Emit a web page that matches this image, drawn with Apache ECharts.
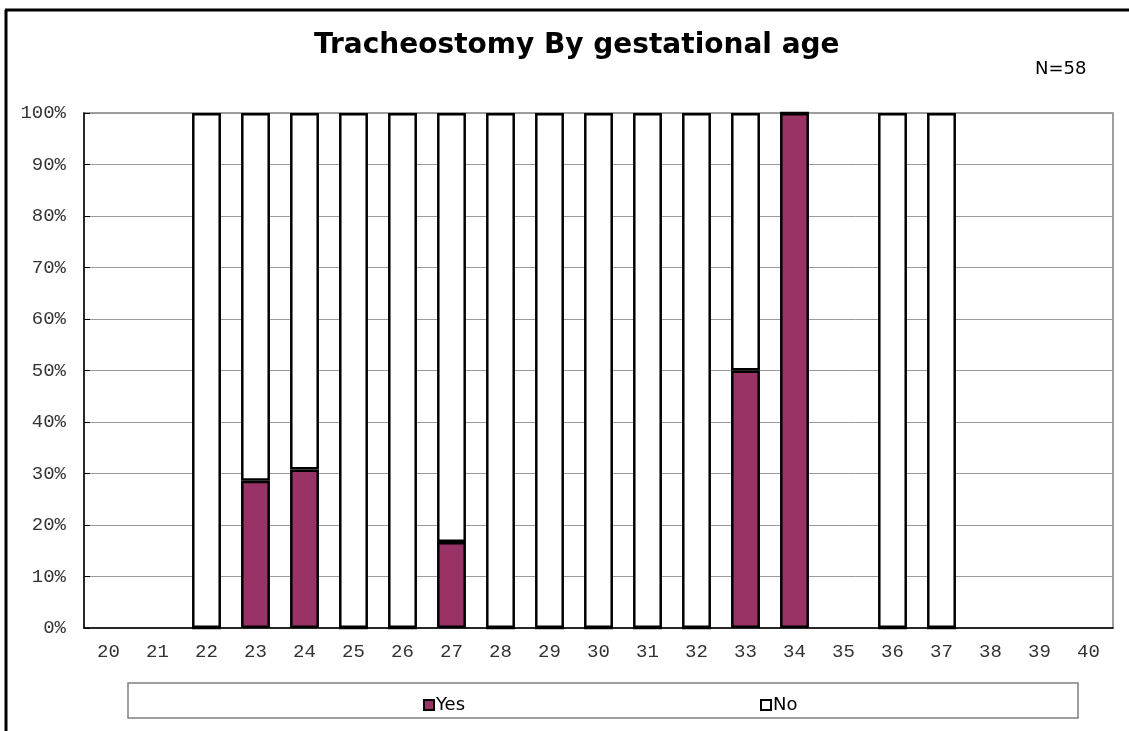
<!DOCTYPE html>
<html>
<head>
<meta charset="utf-8">
<script src="https://cdn.jsdelivr.net/npm/echarts@6/dist/echarts.min.js"></script>
<style>
  html, body { margin: 0; padding: 0; background: #fff; }
  #chart { width: 1129px; height: 731px; }
</style>
</head>
<body>
<div id="chart"></div>
<script>
// gestational age (weeks)
var weeks = ['20','21','22','23','24','25','26','27','28','29','30','31','32','33','34','35','36','37','38','39','40'];
// percent with tracheostomy / without, '-' where no babies
var yesPct = ['-','-',0,28.6,30.8,0,0,16.7,0,0,0,0,0,50,100,'-',0,0,'-','-','-'];
var noPct  = ['-','-',100,71.4,69.2,100,100,83.3,100,100,100,100,100,50,0,'-',100,100,'-','-','-'];
var titleText = 'Tracheostomy By gestational age';
var noteText = 'N=58';

var myChart = echarts.init(document.getElementById('chart'));

var monoFont = '"Liberation Mono", "Courier New", monospace';
var sansFont = '"DejaVu Sans", Tahoma, Verdana, sans-serif';

var option = {
  backgroundColor: '#fff',
  animation: false,
  title: {
    text: titleText,
    left: 309,
    top: 27,
    textStyle: { fontFamily: sansFont, fontWeight: 'bold', fontSize: 28, color: '#000' }
  },
  grid: {
    left: 84,
    right: 16,
    top: 113,
    bottom: 103,
    show: true,
    borderColor: '#808080',
    borderWidth: 1.5
  },
  legend: [
    {
      data: ['Yes'],
      left: 418,
      top: 691,
      icon: 'rect',
      itemWidth: 10,
      itemHeight: 10,
      itemGap: 4,
      textStyle: { fontFamily: sansFont, fontSize: 18, color: '#000', padding: [0, 0, 0, -3] }
    },
    {
      data: ['No'],
      left: 755,
      top: 691,
      icon: 'rect',
      itemWidth: 10,
      itemHeight: 10,
      itemGap: 4,
      textStyle: { fontFamily: sansFont, fontSize: 18, color: '#000', padding: [0, 0, 0, -3] }
    }
  ],
  xAxis: {
    type: 'category',
    data: weeks,
    axisLine: { lineStyle: { color: '#000', width: 1.5 } },
    axisTick: { inside: true, length: 5, lineStyle: { color: '#000' } },
    axisLabel: { fontFamily: monoFont, fontSize: 19, color: '#333', margin: 14 }
  },
  yAxis: {
    type: 'value',
    min: 0,
    max: 100,
    interval: 10,
    axisLine: { show: true, lineStyle: { color: '#000', width: 1.5 } },
    axisTick: { show: true, inside: true, length: 6, lineStyle: { color: '#000' } },
    axisLabel: { formatter: '{value}%', fontFamily: monoFont, fontSize: 19, color: '#333', margin: 18 },
    splitLine: { lineStyle: { color: '#9a9a9a', width: 1 } }
  },
  series: [
    {
      name: 'Yes',
      type: 'bar',
      stack: 'total',
      barWidth: '59%',
      data: yesPct,
      itemStyle: { color: '#993366', borderColor: '#000', borderWidth: 2.5 }
    },
    {
      name: 'No',
      type: 'bar',
      stack: 'total',
      barWidth: '59%',
      data: noPct,
      itemStyle: { color: '#ffffff', borderColor: '#000', borderWidth: 2.5 }
    }
  ],
  graphic: [
    // outer frame (left and top edges are visible)
    { type: 'line', shape: { x1: 6, y1: 10, x2: 6, y2: 731 }, style: { stroke: '#000', lineWidth: 3 } },
    { type: 'line', shape: { x1: 5, y1: 10, x2: 1129, y2: 10 }, style: { stroke: '#000', lineWidth: 3 } },
    // legend box
    { type: 'rect', z: -1, shape: { x: 128, y: 683, width: 950, height: 35 }, style: { fill: '#fff', stroke: '#808080', lineWidth: 1.5 } },
    { type: 'text', left: 1035, top: 60, style: { text: noteText, font: '18px ' + sansFont, fill: '#000' } }
  ]
};

myChart.setOption(option);

window.addEventListener('resize', function () {
  myChart.resize();
});
</script>
</body>
</html>
